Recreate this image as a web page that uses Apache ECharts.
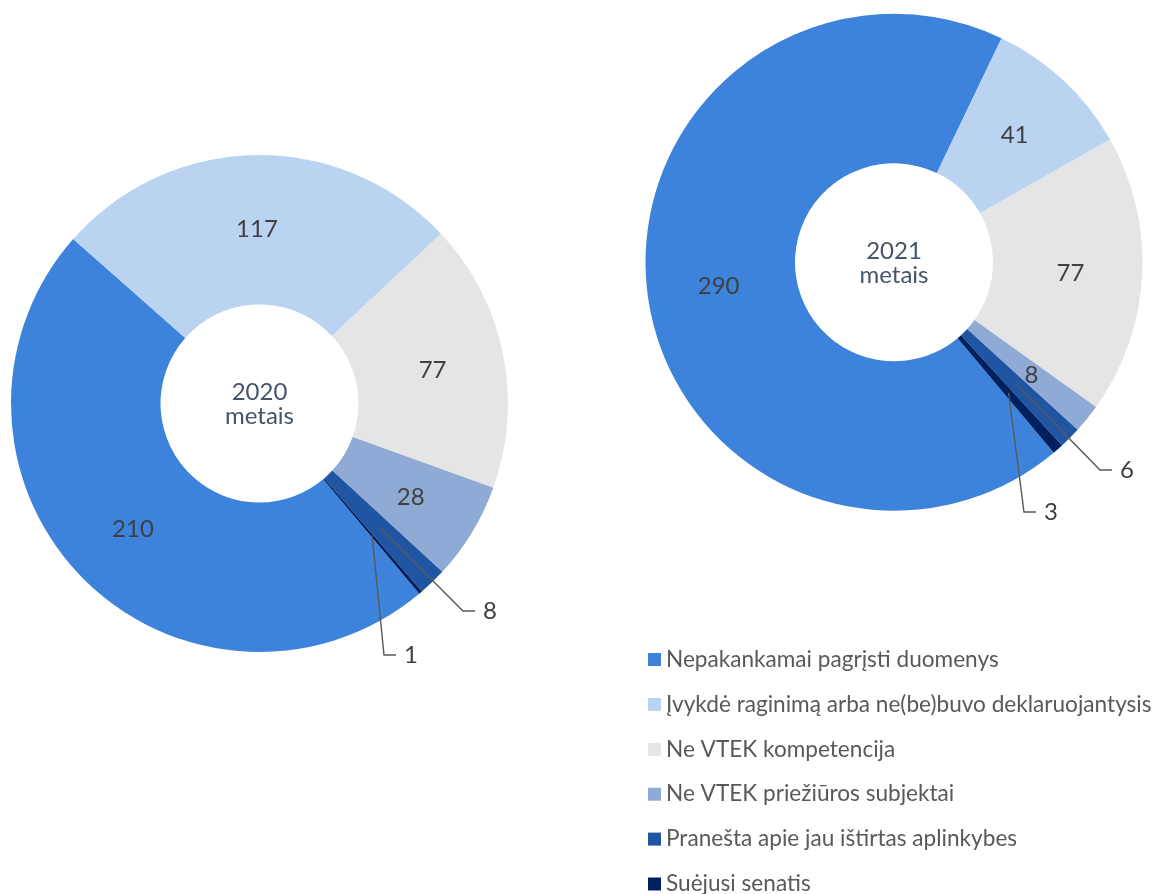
<!DOCTYPE html>
<html>
<head>
<meta charset="utf-8">
<script src="https://cdn.jsdelivr.net/npm/echarts@6/dist/echarts.min.js"></script>
<style>
  html, body { margin: 0; padding: 0; background: #fff; }
  #chart { width: 1156px; height: 894px; }
</style>
</head>
<body>
<div id="chart"></div>
<script>
// kategorijos ir reikšmės
const categories = [
  'Nepakankamai pagrįsti duomenys',
  'Įvykdė raginimą arba ne(be)buvo deklaruojantysis',
  'Ne VTEK kompetencija',
  'Ne VTEK priežiūros subjektai',
  'Pranešta apie jau ištirtas aplinkybes',
  'Suėjusi senatis'
];
const values2020 = [210, 117, 77, 28, 8, 1];
const values2021 = [290, 41, 77, 8, 6, 3];
const centerTitles = ['2020\nmetais', '2021\nmetais'];

const colors = ['#3D82DB', '#BAD3F1', '#E5E5E5', '#8FAAD4', '#1F55A3', '#00205F'];
const FONT = 'Lato, "Noto Sans", sans-serif';
const START_ANGLE = 310;
const R_IN = 99;
const R_OUT = 248.5;
const center2020 = [259.5, 403.5];
const center2021 = [894, 262.3];

// mažų reikšmių etikečių vietos (dataIndex -> [x, y])
const callouts2020 = { 4: [483, 611], 5: [404, 655] };
const callouts2021 = { 4: [1120, 470], 5: [1044, 512] };

function calloutLayout(values, center, callouts) {
  return function (params) {
    var pos = callouts[params.dataIndex];
    if (!pos) return {};
    var total = 0, before = 0;
    for (var i = 0; i < values.length; i++) {
      total += values[i];
      if (i < params.dataIndex) before += values[i];
    }
    var mid = (before + values[params.dataIndex] / 2) / total * 360;
    var ang = (START_ANGLE - mid) * Math.PI / 180;
    var rMid = (R_IN + R_OUT) / 2;
    var ax = center[0] + rMid * Math.cos(ang);
    var ay = center[1] - rMid * Math.sin(ang);
    return {
      x: pos[0],
      y: pos[1],
      align: 'left',
      verticalAlign: 'middle',
      labelLinePoints: [[ax, ay], [pos[0] - 20, pos[1]], [pos[0] - 8, pos[1]]]
    };
  };
}

const labelText = {
  show: true,
  formatter: '{c}',
  color: '#404040',
  fontFamily: FONT,
  fontSize: 24
};

// žiedas su vidinėmis etiketėmis
function makeSeries(values, center, callouts) {
  return {
    type: 'pie',
    radius: [R_IN, R_OUT],
    center: center,
    startAngle: START_ANGLE,
    clockwise: true,
    avoidLabelOverlap: false,
    itemStyle: { borderWidth: 0 },
    emphasis: { disabled: true },
    label: Object.assign({ position: 'inside', offset: [0, 2] }, labelText),
    labelLine: { show: false },
    data: values.map(function (v, i) {
      var item = { name: categories[i], value: v, itemStyle: { color: colors[i] } };
      if (callouts[i]) item.label = { show: false };
      return item;
    })
  };
}

// permatomas žiedas viršuje - tik mažų reikšmių etiketės su linijomis
function makeCalloutSeries(values, center, callouts) {
  return {
    type: 'pie',
    z: 5,
    silent: true,
    legendHoverLink: false,
    radius: [R_IN, R_OUT],
    center: center,
    startAngle: START_ANGLE,
    clockwise: true,
    avoidLabelOverlap: false,
    itemStyle: { color: 'rgba(0,0,0,0)', borderWidth: 0 },
    emphasis: { disabled: true },
    label: Object.assign({ position: 'outside' }, labelText),
    labelLine: {
      show: true,
      showAbove: true,
      lineStyle: { color: '#595959', width: 1.4, opacity: 1 }
    },
    labelLayout: calloutLayout(values, center, callouts),
    data: values.map(function (v, i) {
      var item = { name: categories[i], value: v };
      if (!callouts[i]) {
        item.label = { show: false };
        item.labelLine = { show: false };
      }
      return item;
    })
  };
}

var myChart = echarts.init(document.getElementById('chart'));
var option = {
  animation: false,
  backgroundColor: '#fff',
  legend: {
    orient: 'vertical',
    left: 648,
    top: 648,
    height: 250,
    padding: 0,
    itemWidth: 13,
    itemHeight: 13,
    itemGap: 21.9,
    icon: 'rect',
    selectedMode: false,
    data: categories,
    textStyle: {
      color: '#595959',
      fontFamily: FONT,
      fontSize: 22.6
    }
  },
  graphic: [
    {
      type: 'text',
      x: center2020[0],
      y: center2020[1] + 1,
      style: {
        text: centerTitles[0],
        align: 'center',
        verticalAlign: 'middle',
        fill: '#44546A',
        font: '24px ' + FONT,
        lineHeight: 24
      }
    },
    {
      type: 'text',
      x: center2021[0],
      y: center2021[1] + 1,
      style: {
        text: centerTitles[1],
        align: 'center',
        verticalAlign: 'middle',
        fill: '#44546A',
        font: '24px ' + FONT,
        lineHeight: 24
      }
    }
  ],
  series: [
    makeSeries(values2020, center2020, callouts2020),
    makeSeries(values2021, center2021, callouts2021),
    makeCalloutSeries(values2020, center2020, callouts2020),
    makeCalloutSeries(values2021, center2021, callouts2021)
  ]
};
option && myChart.setOption(option);
</script>
</body>
</html>
